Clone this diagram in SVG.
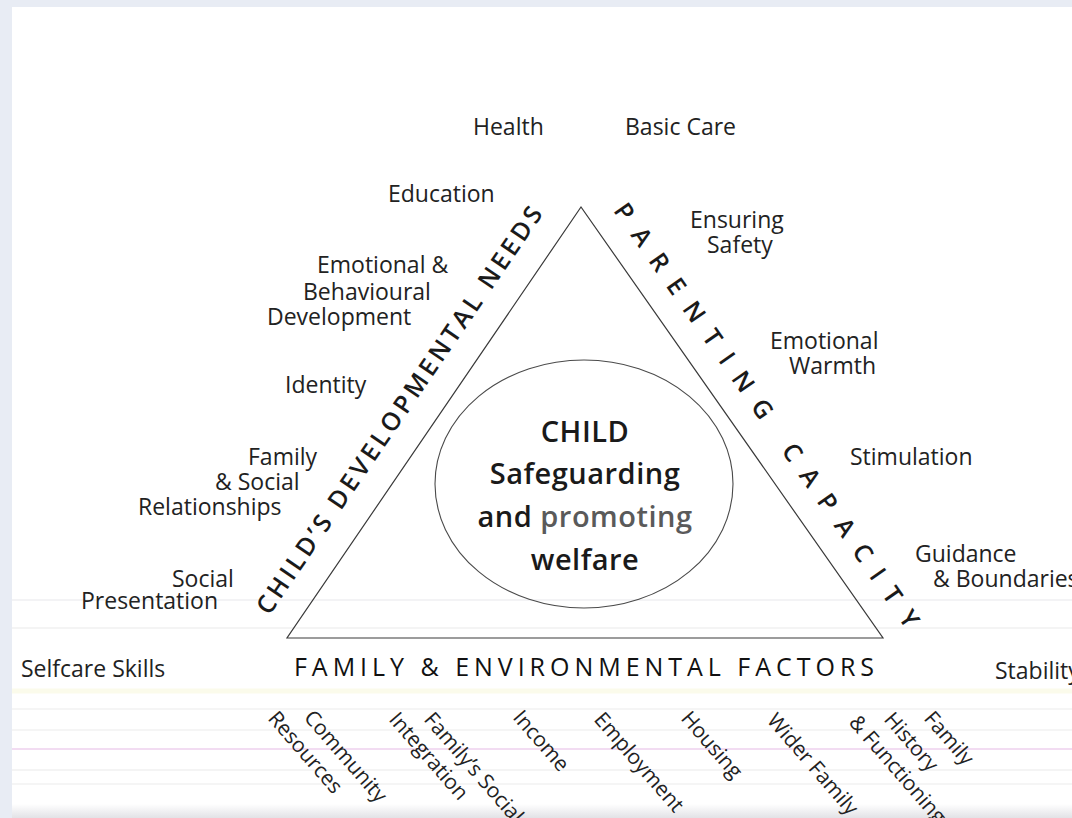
<svg xmlns="http://www.w3.org/2000/svg" width="1072" height="818" viewBox="0 0 1072 818">
  <defs>
    <style>
      .lbl { font-family: "Open Sans", "Liberation Sans", sans-serif; font-size: 23px; fill: #222222; }
      .rot { font-family: "Open Sans", "Liberation Sans", sans-serif; font-size: 21px; fill: #222222; }
      .side { font-family: "Open Sans", "Liberation Sans", sans-serif; font-size: 25px; font-weight: 600; fill: #1a1a1a; }
      .base { font-family: "Open Sans", "Liberation Sans", sans-serif; font-size: 25px; font-weight: 500; fill: #111111; }
      .core { font-family: "Open Sans", "Liberation Sans", sans-serif; font-size: 29px; font-weight: 600; fill: #1a1a1a; text-anchor: middle; letter-spacing: 0.5px; }
      .edge { fill: none; stroke: #3a3a3a; stroke-width: 1.2; }
      .streak { stroke-width: 1.5; }
    </style>
    <linearGradient id="foot" x1="0" y1="0" x2="0" y2="1">
      <stop offset="0" stop-color="#ffffff"/>
      <stop offset="1" stop-color="#e2e2e6"/>
    </linearGradient>
    <!-- baselines running parallel to the two slanted sides -->
    <path id="leftSide" d="M264.7,622.8 L563.4,184.9"/>
    <path id="rightSide" d="M600.7,193.2 L921.7,652.0"/>
  </defs>

  <!-- page -->
  <rect x="0" y="0" width="1072" height="818" fill="#e8ecf4"/>
  <rect x="12" y="7" width="1060" height="811" fill="#ffffff"/>
  <rect x="12" y="804" width="1060" height="14" fill="url(#foot)"/>

  <!-- faint scan streaks across the lower part of the sheet -->
  <g id="streaks" opacity="0.9">
    <line class="streak" x1="12" y1="600" x2="1072" y2="600" stroke="#eeeef0"/>
    <line class="streak" x1="12" y1="628" x2="1072" y2="628" stroke="#efefef"/>
    <line x1="12" y1="691" x2="1072" y2="691" stroke="#fbfbe9" stroke-width="5"/>
    <line class="streak" x1="12" y1="709" x2="1072" y2="709" stroke="#f1f1f1"/>
    <line class="streak" x1="12" y1="730" x2="1072" y2="730" stroke="#f0f0f0"/>
    <line x1="12" y1="749" x2="1072" y2="749" stroke="#f1d9f1" stroke-width="2"/>
    <line class="streak" x1="12" y1="770" x2="1072" y2="770" stroke="#efefef"/>
    <line class="streak" x1="12" y1="784" x2="1072" y2="784" stroke="#f2f2f2"/>
  </g>

  <!-- outline shapes -->
  <g id="connectors">
    <path class="edge" d="M581,207 L287,638 L883,638 Z"/>
  </g>

  <g id="node-child">
    <ellipse cx="584" cy="484" rx="149" ry="124" fill="none" stroke="#4a4a4a" stroke-width="1.1"/>
    <text class="core" x="585" y="442">CHILD</text>
    <text class="core" x="585" y="484">Safeguarding</text>
    <text class="core" x="585" y="527">and <tspan fill="#5a5a5a">promoting</tspan></text>
    <text class="core" x="585" y="570">welfare</text>
  </g>

  <g id="node-developmental-needs">
    <text class="side"><textPath href="#leftSide" startOffset="8" textLength="487" lengthAdjust="spacing">CHILD’S DEVELOPMENTAL NEEDS</textPath></text>
  </g>

  <g id="node-parenting-capacity">
    <text class="side"><textPath href="#rightSide" startOffset="21" textLength="512" lengthAdjust="spacing">PARENTING CAPACITY</textPath></text>
  </g>

  <g id="node-family-environment">
    <text class="base" x="294" y="676" textLength="580" lengthAdjust="spacing">FAMILY &amp; ENVIRONMENTAL FACTORS</text>
  </g>

  <!-- developmental needs -->
  <g id="node-health"><text class="lbl" x="473" y="135">Health</text></g>
  <g id="node-education"><text class="lbl" x="388" y="202">Education</text></g>
  <g id="node-emotional-behavioural">
    <text class="lbl" x="317" y="273">Emotional &amp;</text>
    <text class="lbl" x="303" y="300">Behavioural</text>
    <text class="lbl" x="267" y="325">Development</text>
  </g>
  <g id="node-identity"><text class="lbl" x="285" y="393">Identity</text></g>
  <g id="node-family-social">
    <text class="lbl" x="248" y="465">Family</text>
    <text class="lbl" x="215" y="490">&amp; Social</text>
    <text class="lbl" x="138" y="515">Relationships</text>
  </g>
  <g id="node-social-presentation">
    <text class="lbl" x="172" y="587">Social</text>
    <text class="lbl" x="81" y="609">Presentation</text>
  </g>
  <g id="node-selfcare"><text class="lbl" x="21" y="677">Selfcare  Skills</text></g>

  <!-- parenting capacity -->
  <g id="node-basic-care"><text class="lbl" x="625" y="135">Basic Care</text></g>
  <g id="node-ensuring-safety">
    <text class="lbl" x="690" y="228">Ensuring</text>
    <text class="lbl" x="707" y="253">Safety</text>
  </g>
  <g id="node-emotional-warmth">
    <text class="lbl" x="770" y="349">Emotional</text>
    <text class="lbl" x="789" y="374">Warmth</text>
  </g>
  <g id="node-stimulation"><text class="lbl" x="850" y="465">Stimulation</text></g>
  <g id="node-guidance">
    <text class="lbl" x="915" y="562">Guidance</text>
    <text class="lbl" x="933" y="587">&amp; Boundaries</text>
  </g>
  <g id="node-stability"><text class="lbl" x="995" y="679">Stability</text></g>

  <!-- family and environmental factors, set on a slant -->
  <g id="node-community">
    <text class="rot" transform="translate(303,718) rotate(49)">Community</text>
    <text class="rot" transform="translate(267,719) rotate(49)">Resources</text>
  </g>
  <g id="node-social-integration">
    <text class="rot" transform="translate(423,720) rotate(49)">Family’s Social</text>
    <text class="rot" transform="translate(388,720) rotate(49)">Integration</text>
  </g>
  <g id="node-income"><text class="rot" transform="translate(512,718) rotate(49)">Income</text></g>
  <g id="node-employment"><text class="rot" transform="translate(593,720) rotate(49)">Employment</text></g>
  <g id="node-housing"><text class="rot" transform="translate(680,719) rotate(49)">Housing</text></g>
  <g id="node-wider-family"><text class="rot" transform="translate(766,721) rotate(49)">Wider Family</text></g>
  <g id="node-family-history">
    <text class="rot" transform="translate(923,719) rotate(49)">Family</text>
    <text class="rot" transform="translate(883,720) rotate(49)">History</text>
    <text class="rot" transform="translate(848,723) rotate(49)">&amp; Functioning</text>
  </g>
</svg>
